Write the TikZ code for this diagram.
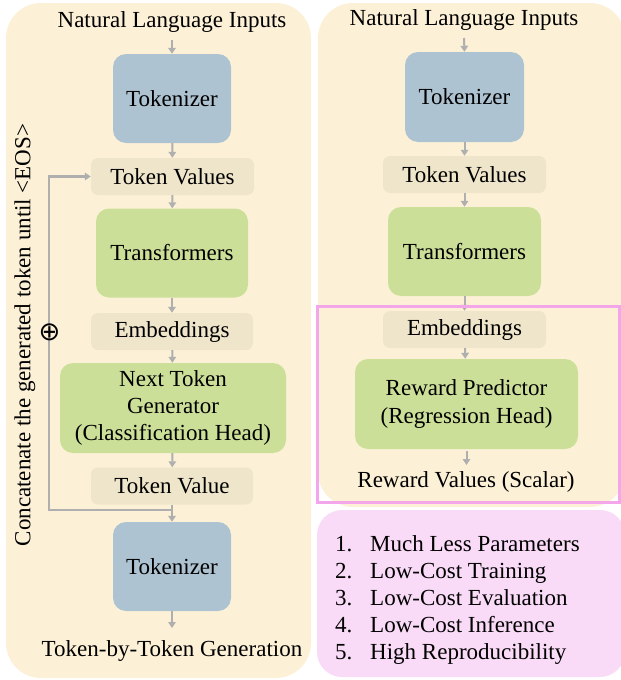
\documentclass[tikz,border=0pt]{standalone}
\usepackage{fontspec}
\setmainfont{Liberation Serif}
\newfontfamily\symfont{DejaVu Sans}
\usetikzlibrary{arrows.meta}
\definecolor{panel}{HTML}{FCF1D7}
\definecolor{tokblue}{HTML}{AEC3D1}
\definecolor{beige}{HTML}{EEE5CB}
\definecolor{grn}{HTML}{CCDF98}
\definecolor{arrgray}{HTML}{AFAFAF}
\definecolor{pinkline}{HTML}{F3A6E9}
\definecolor{pinkfill}{HTML}{F9DBF7}
\tikzset{
  txt/.style={font=\fontsize{23}{27}\selectfont, inner sep=0pt, align=center},
  tokbox/.style={txt, fill=tokblue, rounded corners=13pt},
  valbox/.style={txt, fill=beige, rounded corners=7pt},
  grnbox/.style={txt, fill=grn, rounded corners=13pt},
  arr/.style={draw=arrgray, line width=2pt, -{Triangle[width=7.5pt,length=6pt]}},
}
\begin{document}
\begin{tikzpicture}[x=1pt,y=-1pt]
\useasboundingbox (0,0) rectangle (621,680);
% panels
\fill[panel, rounded corners=35pt] (6,3) rectangle (311,678);
\fill[panel, rounded corners=35pt] (318,3) rectangle (625,507);
\fill[pinkfill, rounded corners=25pt] (317,510) rectangle (625,677);
% left column
\node[txt] (nli1) at (172,22) {Natural Language Inputs};
\node[tokbox, minimum width=118pt, minimum height=89pt] (tok1) at (172,98.5) {Tokenizer};
\node[valbox, minimum width=163pt, minimum height=37pt] (tv1) at (172.5,176.5) {Token Values};
\node[grnbox, minimum width=152pt, minimum height=89pt] (tr1) at (172,253) {Transformers};
\node[valbox, minimum width=162pt, minimum height=37pt] (emb1) at (172,331.5) {Embeddings};
\node[grnbox, minimum width=226pt, minimum height=90pt] (ntg) at (173,408) {Next Token\\Generator\\(Classification Head)};
\node[valbox, minimum width=162pt, minimum height=37pt] (tvv) at (172,486) {Token Value};
\node[tokbox, minimum width=118pt, minimum height=89pt] (tok2) at (172,566.5) {Tokenizer};
\node[txt] (out1) at (172,651) {Token-by-Token Generation};
\draw[arr] (nli1.south |- 0,40) -- (tok1.north);
\draw[arr] (tok1) -- (tv1);
\draw[arr] (tv1) -- (tr1);
\draw[arr] (tr1) -- (emb1);
\draw[arr] (emb1) -- (ntg);
\draw[arr] (ntg) -- (tvv);
\draw[arr] (tvv) -- (tok2);
\draw[arr] (tok2.south) -- (tok2.south |- 0,628);
\coordinate (jn) at (172,510);
\coordinate (lc) at (49,510);
\draw[arr, line width=2.4pt] (jn) -- (lc) |- (tv1.west);
\node[inner sep=0pt, font=\symfont\fontsize{26}{28}\selectfont] (plus) at (49.5,332) {⊕};
\node[txt, rotate=90] (concat) at (25,335) {Concatenate the generated token until <EOS>};
% right column
\node[txt] (nli2) at (464,20) {Natural Language Inputs};
\node[tokbox, minimum width=119pt, minimum height=90pt] (tok3) at (464.5,97) {Tokenizer};
\node[valbox, minimum width=163pt, minimum height=37pt] (tv2) at (464.5,174.5) {Token Values};
\node[grnbox, minimum width=153pt, minimum height=89pt] (tr2) at (464.5,251.5) {Transformers};
\node[valbox, minimum width=163pt, minimum height=37pt] (emb2) at (464.5,329.5) {Embeddings};
\node[grnbox, minimum width=223pt, minimum height=90pt, font=\fontsize{23}{28}\selectfont] (rp) at (466.5,404) {Reward Predictor\\(Regression Head)};
\node[txt] (rv) at (466,482) {Reward Values (Scalar)};
\draw[arr] (nli2.south |- 0,38) -- (tok3.north);
\draw[arr] (tok3) -- (tv2);
\draw[arr] (tv2) -- (tr2);
\draw[arr] (tr2) -- (emb2);
\draw[arr] (emb2) -- (rp);
\draw[arr] (rp.south |- 0,451) -- (rp.south |- 0,465);
% pink highlight rectangle
\draw[pinkline, line width=3pt] (317.5,306) rectangle (619.5,502);
% list
\foreach \n/\t [count=\i] in {1./Much Less Parameters, 2./Low-Cost Training, 3./Low-Cost Evaluation, 4./Low-Cost Inference, 5./High Reproducibility}{
  \node[txt, anchor=base west] (num\i) at (335,{543+27*(\i-1)+8}) {\n};
  \node[txt, anchor=base west] (item\i) at (370,{543+27*(\i-1)+8}) {\t};
}
\end{tikzpicture}
\end{document}
